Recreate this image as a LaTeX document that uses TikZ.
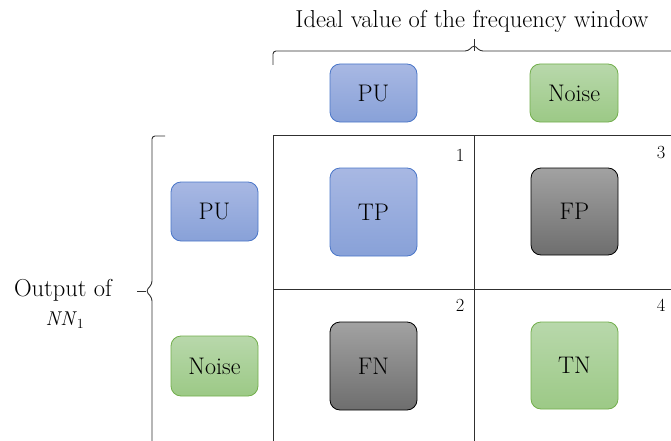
\documentclass[tikz,border=0pt]{standalone}
\usepackage{fontspec}
\definecolor{bluetop}{HTML}{A8B8E3}
\definecolor{bluebot}{HTML}{88A1D8}
\definecolor{blueline}{HTML}{4A76C8}
\definecolor{greentop}{HTML}{B8D8AB}
\definecolor{greenbot}{HTML}{9CC986}
\definecolor{greenline}{HTML}{72AE4C}
\definecolor{graytop}{HTML}{A2A2A2}
\definecolor{graybot}{HTML}{6E6E6E}
\definecolor{gridline}{HTML}{303030}
\begin{document}
\begin{tikzpicture}[x=1pt,y=-1pt,
  box/.style={rounded corners=10pt, minimum width=87pt, line width=0.8pt, inner sep=0pt,
    font=\fontsize{24}{28}\selectfont},
  bluebox/.style={box, draw=blueline, top color=bluetop, bottom color=bluebot},
  greenbox/.style={box, draw=greenline, top color=greentop, bottom color=greenbot},
  graybox/.style={box, draw=black, top color=graytop, bottom color=graybot},
  gridl/.style={draw=gridline, line width=0.9pt},
  bracel/.style={draw=gridline, line width=0.9pt, rounded corners=3pt},
  numlabel/.style={font=\fontsize{18.5}{22}\selectfont, inner sep=0pt},
  title/.style={font=\fontsize{24.5}{28}\selectfont, inner sep=0pt}]
\useasboundingbox (0,0) rectangle (671,441);

% title and braces
\node[title] (ideal) at (472,21) {Ideal value of the frequency window};
\draw[bracel] (273,65) -- (273,51) -- (468,51) -- (474,45) -- (480,51) -- (680,51);
\coordinate (tipL) at (137,291);
\draw[bracel] (165,136) -- (152,136) -- (152,284) -- (146,291) -- (152,298) -- (152,450);
\draw[gridl] (tipL) -- (146,291);
\draw[gridl] (474,51) -- (474,39);
\node[title] (outp) at (63,290) {Output of};
\node[font=\fontsize{20}{23}\selectfont, inner sep=0pt] (nn) at (65,320) {\textit{NN}\textsubscript{1}};

% grid
\draw[gridl] (273,135) -- (680,135);
\draw[gridl] (273,135) -- (273,450);
\draw[gridl] (474,135) -- (474,450);
\draw[gridl] (273,289) -- (680,289);

% header boxes
\node[bluebox, minimum height=58pt] (hpu) at (373.5,93) {PU};
\node[greenbox, minimum height=58pt, minimum width=88pt] (hnoise) at (574,93) {Noise};
\node[bluebox, minimum height=59pt] (rpu) at (214.5,211.5) {PU};
\node[greenbox, minimum height=60pt] (rnoise) at (214.5,366) {Noise};

% cells
\node[bluebox, minimum height=88pt] (tp) at (373.5,212) {TP};
\node[graybox, minimum height=87pt] (fp) at (574.5,211.5) {FP};
\node[graybox, minimum height=88pt] (fn) at (373.5,366) {FN};
\node[greenbox, minimum height=87pt] (tn) at (574.5,365.5) {TN};

\node[numlabel] (n1) at (460,155) {1};
\node[numlabel] (n3) at (661,153) {3};
\node[numlabel] (n2) at (460,305) {2};
\node[numlabel] (n4) at (661,305) {4};
\end{tikzpicture}
\end{document}
